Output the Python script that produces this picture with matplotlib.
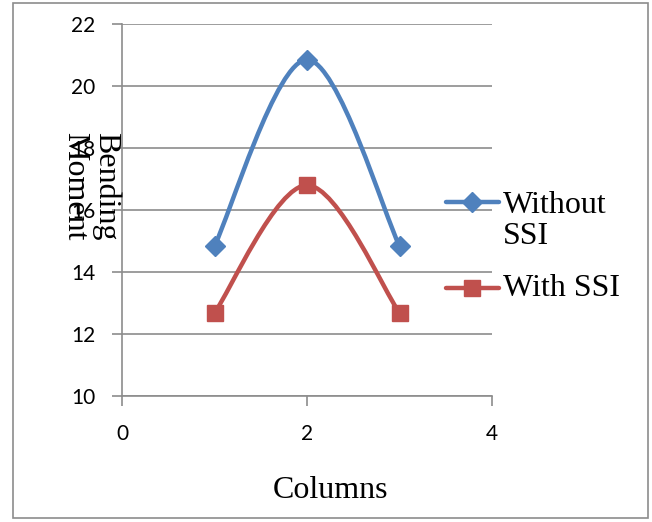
import numpy as np
import matplotlib.pyplot as plt
from matplotlib.path import Path
from matplotlib.patches import PathPatch, Rectangle
from matplotlib.lines import Line2D

# data
columns = [1, 2, 3]
without_ssi = [14.84, 20.85, 14.84]
with_ssi = [12.68, 16.8, 12.68]
x_ticks = [0, 2, 4]
y_ticks = [10, 12, 14, 16, 18, 20, 22]
series_names = ["Without\nSSI", "With SSI"]

BLUE = "#4F81BD"
RED = "#C0504D"
GRID = "#8c8c8c"
SERIF = "Liberation Serif"
SANS = "Lato"
W, H = 652, 522


def smooth_path(xs, ys):
    """Excel-style smoothed line: Catmull-Rom converted to cubic Bezier."""
    pts = np.column_stack([xs, ys]).astype(float)
    n = len(pts)
    verts = [pts[0]]
    codes = [Path.MOVETO]
    for i in range(n - 1):
        p_prev = pts[i - 1] if i > 0 else pts[i]
        p_next = pts[i + 2] if i + 2 < n else pts[i + 1]
        c1 = pts[i] + (pts[i + 1] - p_prev) / 6
        c2 = pts[i + 1] - (p_next - pts[i]) / 6
        verts += [c1, c2, pts[i + 1]]
        codes += [Path.CURVE4] * 3
    return Path(verts, codes)


def fx(px):
    return px / W


def fy(py):
    return 1 - py / H


fig = plt.figure(figsize=(W / 100, H / 100), dpi=100)
ax = fig.add_axes([fx(122), fy(396), 370 / W, 372 / H])

styles = [(without_ssi, BLUE, "D", 10), (with_ssi, RED, "s", 12)]
for ys, color, marker, ms in styles:
    ax.add_patch(PathPatch(smooth_path(columns, ys), facecolor="none",
                           edgecolor=color, lw=3.2, capstyle="round", zorder=3))
    ax.plot(columns, ys, ls="none", marker=marker, ms=ms, color=color,
            markeredgecolor=color, zorder=4)

ax.set_xlim(0, 4)
ax.set_ylim(10, 22)
ax.set_xticks(x_ticks)
ax.set_yticks(y_ticks)
ax.grid(axis="y", color=GRID, lw=1.2)
ax.set_axisbelow(True)
for s in ["top", "right"]:
    ax.spines[s].set_visible(False)
for s in ["left", "bottom"]:
    ax.spines[s].set_color(GRID)
    ax.spines[s].set_linewidth(1.2)
ax.tick_params(axis="both", colors=GRID, length=7, width=1.2, labelcolor="black",
               labelsize=15)
ax.tick_params(axis="y", pad=12)
ax.tick_params(axis="x", pad=13)
for lbl in ax.get_xticklabels() + ax.get_yticklabels():
    lbl.set_fontfamily(SANS)

# axis titles
fig.text(fx(330), fy(490), "Columns", ha="center", va="center",
         fontsize=23, family=SERIF)
fig.text(fx(90), fy(186), "Bending\nMoment", ha="center", va="center",
         rotation=270, fontsize=23, family=SERIF, linespacing=1.1)

# legend, drawn by hand so the key sits on the first text line like Excel
legend_y = [202, 288]
text_y = [221, 288]
for (ys, color, marker, ms), ly, ty, name in zip(styles, legend_y, text_y, series_names):
    fig.add_artist(Line2D([fx(446), fx(499)], [fy(ly), fy(ly)], color=color, lw=3.2,
                          solid_capstyle="round", transform=fig.transFigure))
    fig.add_artist(Line2D([fx(472)], [fy(ly)], color=color, marker=marker, ms=ms,
                          transform=fig.transFigure))
    fig.text(fx(503), fy(ty), name, ha="left", va="center", fontsize=23,
             family=SERIF, linespacing=1.05)

# chart border
fig.add_artist(Rectangle((fx(13), fy(518)), 635 / W, 515 / H,
                         transform=fig.transFigure, fill=False,
                         edgecolor=GRID, lw=1.2))

fig.savefig("out.png", dpi=100)
